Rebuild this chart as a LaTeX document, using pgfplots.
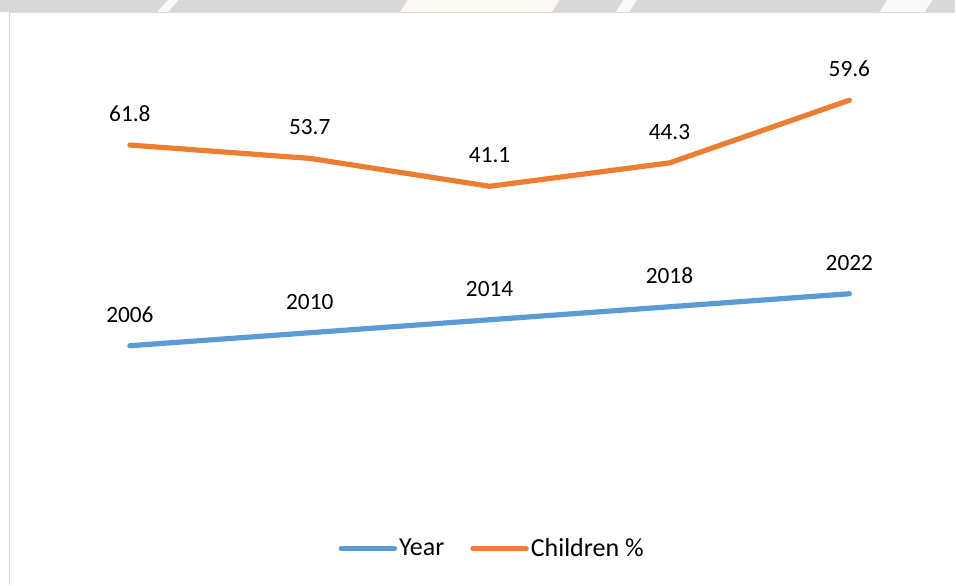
\documentclass[border=0pt]{standalone}
\usepackage{pgfplots}
\pgfplotsset{compat=1.18}
\usepackage{fontspec}
\setmainfont{Carlito}
\definecolor{cblue}{HTML}{5B9BD5}
\definecolor{corange}{HTML}{ED7D31}
\definecolor{framegray}{HTML}{D9D9D9}
\definecolor{stripgray}{HTML}{D8D8D8}
\begin{document}
\begin{tikzpicture}[x=1pt,y=1pt]
% canvas 956x585 px, 1px = 0.75pt
\fill[white] (0,0) rectangle (717,438.75);
\fill[stripgray] (0,429.5) rectangle (717,438.75);
\fill[white!85!stripgray] (118,429.5) -- (126,438.75) -- (134,438.75) -- (126,429.5) -- cycle;
\fill[white!70!corange!20] (300,429.5) -- (306,438.75) -- (420,438.75) -- (414,429.5) -- cycle;
\fill[white!85!stripgray] (462,429.5) -- (468,438.75) -- (478,438.75) -- (472,429.5) -- cycle;
\fill[white!85!stripgray] (660,429.5) -- (666,438.75) -- (700,438.75) -- (694,429.5) -- cycle;
\draw[framegray, line width=1.1pt] (7.1,0) -- (7.1,429.4) -- (717,429.4);
\begin{axis}[
  at={(97.5pt,63.75pt)}, anchor=south west,
  scale only axis, width=540pt, height=330pt,
  xmin=0, xmax=4, ymin=1958.615, ymax=2094,
  axis lines=none, clip=false,
  stack plots=y,
  point meta=explicit symbolic,
  nodes near coords,
  every node near coord/.style={anchor=south, inner sep=0pt, yshift=15.5pt, font=\fontsize{17.5}{21}\selectfont, text=black},
  legend columns=2,
  legend style={draw=none, fill=none, at={(0.5035,-0.1114)}, anchor=center,
    font=\fontsize{19.5}{23}\selectfont, inner sep=0pt,
    nodes={inner sep=1.5pt},
    /tikz/every even column/.append style={column sep=18pt}},
  legend cell align=left,
  legend image code/.code={\draw[#1, line width=3.9pt, line cap=round] (0pt,0pt) -- (40pt,0pt);},
]
\addplot[cblue, line width=3.9pt, line cap=round, line join=round] coordinates {
  (0,2006) [2006]
  (1,2010) [2010]
  (2,2014) [2014]
  (3,2018) [2018]
  (4,2022) [2022]
};
\addlegendentry{Year}
\addplot[corange, line width=3.9pt, line cap=round, line join=round] coordinates {
  (0,61.8) [61.8]
  (1,53.7) [53.7]
  (2,41.1) [41.1]
  (3,44.3) [44.3]
  (4,59.6) [59.6]
};
\addlegendentry{Children \%}
\end{axis}
\end{tikzpicture}
\end{document}
